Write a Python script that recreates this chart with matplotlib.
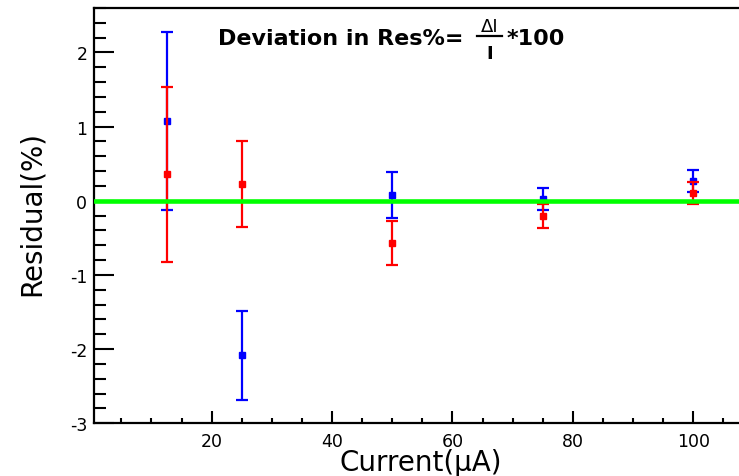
import matplotlib
matplotlib.use("Agg")
import matplotlib.pyplot as plt
from matplotlib.ticker import MultipleLocator
from matplotlib.lines import Line2D

# Data
currents = [12.5, 25, 50, 75, 100]

blue_res = [1.07, -2.08, 0.08, 0.02, 0.27]
blue_err = [1.20, 0.60, 0.31, 0.15, 0.15]

red_res = [0.36, 0.23, -0.57, -0.20, 0.11]
red_err = [1.18, 0.58, 0.30, 0.16, 0.15]

x_major = [20, 40, 60, 80, 100]
y_major = [-3, -2, -1, 0, 1, 2]

W, H = 739, 477

plt.rcParams["axes.unicode_minus"] = False
plt.rcParams["font.family"] = "DejaVu Sans"


# helper: pixel position -> figure fraction
def fx(px):
    return px / W


def fy(py):
    return 1 - py / H


fig = plt.figure(figsize=(W / 100, H / 100), dpi=100)
left, right, top, bottom = 94.3, 745.9, 9.0, 424.3
ax = fig.add_axes([fx(left), fy(bottom), (right - left) / W, (bottom - top) / H])

# error bars (blue first, red drawn over it)
ax.errorbar(currents, blue_res, yerr=blue_err, fmt="s", color="#0000ff",
            ms=4.5, capsize=4.5, elinewidth=1.6, capthick=1.6, zorder=3)
ax.errorbar(currents, red_res, yerr=red_err, fmt="s", color="#ff0000",
            ms=4.5, capsize=4.5, elinewidth=1.6, capthick=1.6, zorder=4)

# zero line
ax.axhline(0, color="#00ff00", lw=3.3, zorder=5)

ax.set_xlim(0.5, 108.75)
ax.set_ylim(-3, 2.6)

ax.set_xticks(x_major)
ax.set_yticks(y_major)
ax.xaxis.set_minor_locator(MultipleLocator(5))
ax.yaxis.set_minor_locator(MultipleLocator(0.2))

ax.tick_params(axis="both", which="both", direction="in", width=1.5,
               labelsize=12.5, top=False, right=False)
ax.tick_params(axis="y", which="major", length=14.5, pad=5)
ax.tick_params(axis="y", which="minor", length=8.5)
ax.tick_params(axis="x", which="major", length=8.5, pad=6)
ax.tick_params(axis="x", which="minor", length=3.6)

for side in ["left", "bottom", "top"]:
    ax.spines[side].set_linewidth(1.6)
ax.spines["right"].set_visible(False)

# axis titles
fig.text(fx(420.5), fy(471), "Current(\u03bcA)", fontsize=20,
         ha="center", va="baseline")
fig.text(fx(40), fy(214), "Residual(%)", fontsize=20, rotation=90,
         rotation_mode="anchor", ha="center", va="baseline")

# header formula: Deviation in Res%= dI/I *100
fig.text(fx(218), fy(45), "Deviation in Res%=", fontsize=16,
         fontweight="bold", ha="left", va="baseline")
fig.text(fx(489.5), fy(32), "\u0394I", fontsize=13,
         ha="center", va="baseline")
fig.add_artist(Line2D([fx(477), fx(502)], [fy(37), fy(37)],
                      color="black", lw=1.6, transform=fig.transFigure))
fig.text(fx(489.5), fy(59), "I", fontsize=13, fontweight="bold",
         ha="center", va="baseline")
fig.text(fx(507), fy(45), "*100", fontsize=16, fontweight="bold",
         ha="left", va="baseline")

fig.savefig("out.png", dpi=100)
